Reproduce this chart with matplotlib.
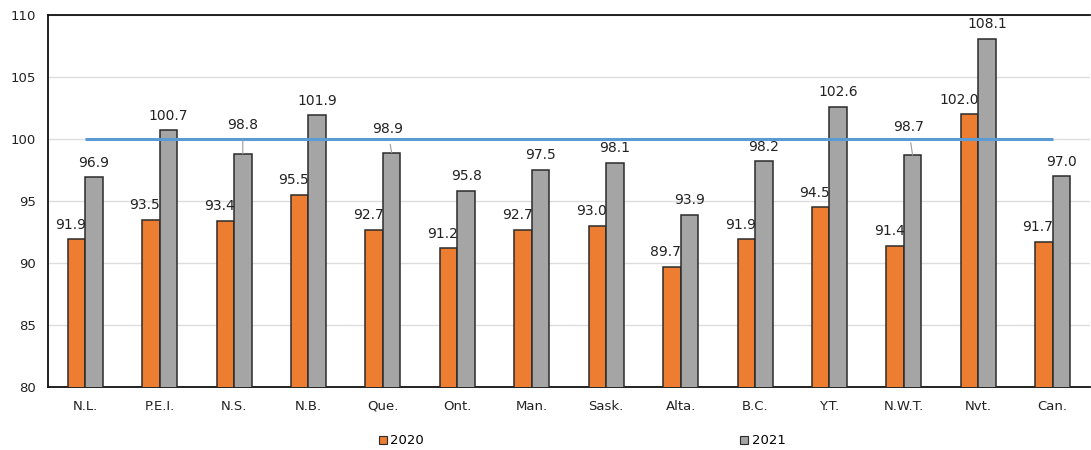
import numpy as np
import matplotlib.pyplot as plt
from matplotlib.patches import Patch

# -----------------------------
# Data
# -----------------------------
REGIONS = ["N.L.", "P.E.I.", "N.S.", "N.B.", "Que.", "Ont.", "Man.",
           "Sask.", "Alta.", "B.C.", "Y.T.", "N.W.T.", "Nvt.", "Can."]
VALUES_2020 = [91.9, 93.5, 93.4, 95.5, 92.7, 91.2, 92.7,
               93.0, 89.7, 91.9, 94.5, 91.4, 102.0, 91.7]
VALUES_2021 = [96.9, 100.7, 98.8, 101.9, 98.9, 95.8, 97.5,
               98.1, 93.9, 98.2, 102.6, 98.7, 108.1, 97.0]
REFERENCE = [100] * len(REGIONS)

# labels lifted above the reference line, with a leader line (dx, dy in pt)
LIFTED_2021 = {"N.S.": (0, 21), "Que.": (-3, 17), "N.W.T.": (-3, 20)}

# -----------------------------
# Style
# -----------------------------
ORANGE = "#ED7D31"
GRAY = "#A5A5A5"
BLUE = "#5B9BD5"
EDGE = "#2B2B2B"
TXT = "#222222"

plt.rcParams.update({
    "font.family": "DejaVu Sans",
    "font.size": 9.5,
})

fig = plt.figure(figsize=(10.91, 4.5), dpi=100)
ax = fig.add_axes([0.044, 0.14, 0.955, 0.8267])

x = np.arange(len(REGIONS))
w = 0.235

ax.bar(x - w / 2, VALUES_2020, width=w, color=ORANGE,
       edgecolor=EDGE, linewidth=1.1, zorder=3, label="2020")
ax.bar(x + w / 2, VALUES_2021, width=w, color=GRAY,
       edgecolor=EDGE, linewidth=1.1, zorder=3, label="2021")

ax.plot(x, REFERENCE, color=BLUE, linewidth=2.2, zorder=4,
        solid_capstyle="butt")

# value labels
for i, v in enumerate(VALUES_2020):
    ax.annotate(f"{v:.1f}", xy=(x[i], v), xytext=(0.5, 10.5),
                textcoords="offset points", ha="right", va="center",
                color=TXT, zorder=5, fontsize=10)

for i, v in enumerate(VALUES_2021):
    r = REGIONS[i]
    if r in LIFTED_2021:
        ax.annotate(f"{v:.1f}", xy=(x[i] + w / 2, v),
                    xytext=LIFTED_2021[r],
                    textcoords="offset points", ha="center", va="center",
                    color=TXT, zorder=5, fontsize=10,
                    arrowprops=dict(arrowstyle="-", color="#9A9A9A",
                                    linewidth=0.8, shrinkA=4, shrinkB=0))
    else:
        ax.annotate(f"{v:.1f}", xy=(x[i] + w / 2, v), xytext=(0, 10.5),
                    textcoords="offset points", ha="center", va="center",
                    color=TXT, zorder=5, fontsize=10)

ax.set_xlim(-0.5, len(REGIONS) - 0.5)
ax.set_ylim(80, 110)
ax.set_yticks(np.arange(80, 111, 5))
ax.set_xticks(x)
ax.set_xticklabels(REGIONS)
ax.tick_params(axis="both", length=0, colors=TXT, labelsize=9.5)
ax.tick_params(axis="y", pad=9)
ax.tick_params(axis="x", pad=9)
ax.grid(axis="y", color="#DDDDDD", linewidth=1.0, zorder=0)
ax.set_axisbelow(True)

for s in ["left", "bottom", "top"]:
    ax.spines[s].set_color("#111111")
    ax.spines[s].set_linewidth(1.3)
ax.spines["right"].set_visible(False)

handles = [Patch(facecolor=ORANGE, edgecolor=EDGE, linewidth=0.8),
           Patch(facecolor=GRAY, edgecolor=EDGE, linewidth=0.8)]
fig.legend(handles, ["2020", "2021"], loc="center",
           bbox_to_anchor=(0.5335, 0.02), ncol=2, frameon=False,
           handlelength=0.6, handleheight=0.6, handletextpad=0.25,
           columnspacing=24, fontsize=9.5)

fig.savefig("out.png", dpi=100)
